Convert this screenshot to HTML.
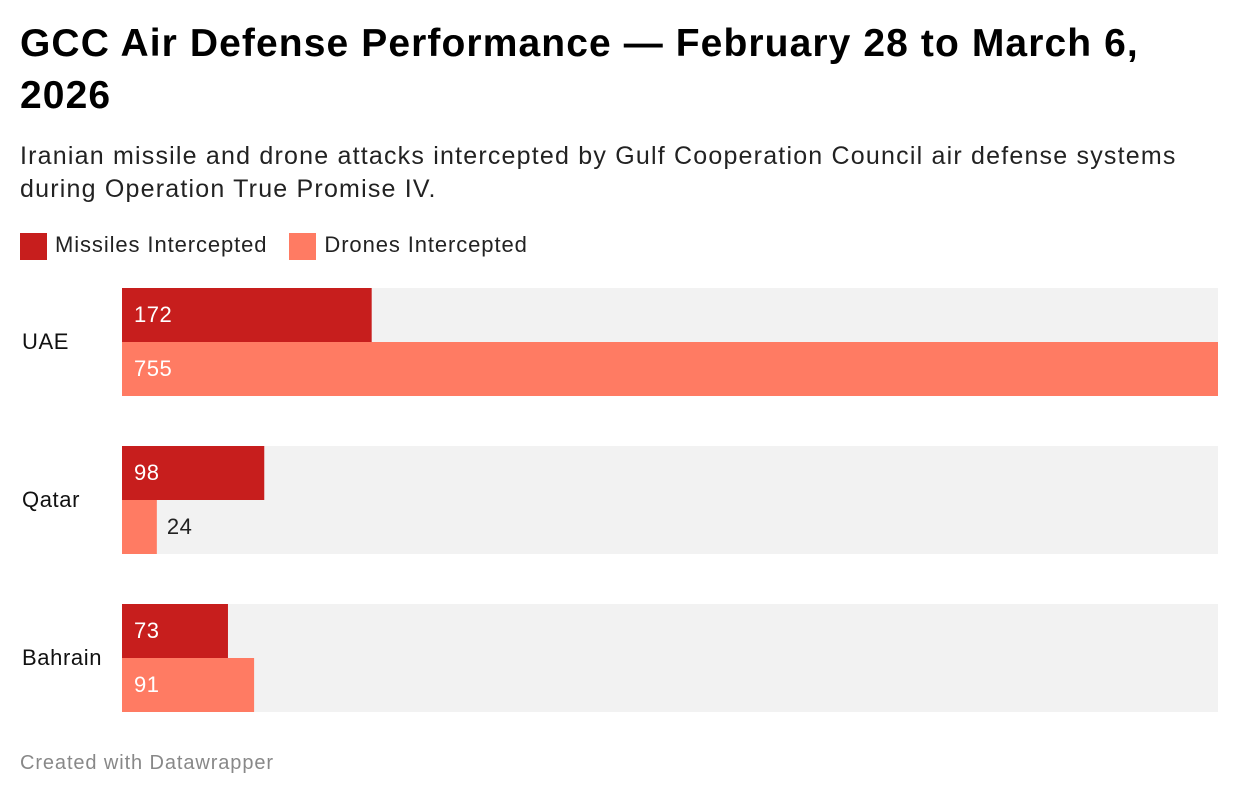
<!DOCTYPE html>
<html><head><meta charset="utf-8">
<style>
body{margin:0;width:1240px;height:798px;background:#fff;font-family:"Liberation Sans",sans-serif;position:relative;overflow:hidden}
h1{position:absolute;left:20px;top:18px;margin:0;font-size:39px;line-height:52px;font-weight:bold;color:#000;width:1160px;letter-spacing:1.1px}
.sub{position:absolute;left:20px;top:140px;font-size:25px;line-height:33px;color:#222;width:1185px;letter-spacing:1.2px}
.legend{position:absolute;left:20px;top:232px;font-size:22px;color:#222;display:flex;gap:22px;letter-spacing:0.9px}
.legend span.sw{display:inline-block;width:27px;height:27px;vertical-align:middle;margin-right:8px}
.foot{position:absolute;left:20px;top:752px;font-size:20px;color:#888;letter-spacing:0.9px}
svg{position:absolute;left:0;top:0}
</style></head><body>
<h1>GCC Air Defense Performance — February 28 to March 6, 2026</h1>
<div class="sub">Iranian missile and drone attacks intercepted by Gulf Cooperation Council air defense systems during Operation True Promise IV.</div>
<div class="legend">
<div><span class="sw" style="background:#c71e1d"></span>Missiles Intercepted</div>
<div><span class="sw" style="background:#ff7b63"></span>Drones Intercepted</div>
</div>
<svg id="chart" width="1240" height="798"></svg>
<div class="foot">Created with Datawrapper</div>
<script>
const categories=["UAE","Qatar","Bahrain"];
const missiles=[172,98,73];
const drones=[755,24,91];
const maxVal=755;
const NS="http://www.w3.org/2000/svg";
const svg=document.getElementById('chart');
const x0=122,plotW=1096,barH=54,groupTop=288,groupStep=158;
function xs(v){return v/maxVal*plotW;}
function el(t,a){const e=document.createElementNS(NS,t);for(const k in a)e.setAttribute(k,a[k]);svg.appendChild(e);return e;}
categories.forEach((c,i)=>{
  const y=groupTop+i*groupStep;
  const bg=el('rect',{x:x0,y:y,width:plotW,height:barH*2,fill:'#f2f2f2'});
  
  
  const lab=el('text',{x:22,y:y+barH+7,'font-size':22,fill:'#111','letter-spacing':0.6});
  lab.textContent=c;
  
  
  [[missiles[i],'#c71e1d','missiles'],[drones[i],'#ff7b63','drones']].forEach((s,j)=>{
    const w=xs(s[0]);const by=y+j*barH;
    const r=el('rect',{x:x0,y:by,width:w,height:barH,fill:s[1]});
    
    
    const inside=w>60;
    const t=el('text',{x:inside?x0+12:x0+w+10,y:by+barH/2+7,'font-size':22,fill:inside?'#fff':'#222','letter-spacing':0.5});
    t.textContent=s[0];
    
    
  });
});
</script>
</body></html>
